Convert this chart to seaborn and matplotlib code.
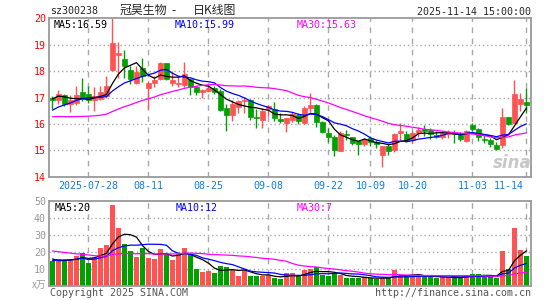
import numpy as np
import pandas as pd
import matplotlib
matplotlib.use("Agg")
import matplotlib.pyplot as plt
import matplotlib.transforms as mtransforms
import seaborn as sns

# ---------------- data ----------------
open_ = [17.00, 16.90, 17.10, 16.75, 16.78, 17.20, 17.15, 16.90, 16.95, 17.05,
         18.05, 18.60, 18.45, 18.05, 17.55, 18.10, 17.35, 17.55, 17.70, 18.30,
         17.55, 17.50, 17.47, 17.70, 17.40, 17.22, 17.25, 17.37, 17.24, 16.60,
         16.32, 16.63, 16.86, 16.92, 16.27, 16.16, 16.58, 16.57, 16.20, 16.03,
         16.14, 16.32, 16.02, 16.62, 16.70, 16.06, 15.65, 15.52, 14.98, 15.63,
         15.49, 15.34, 15.23, 15.48, 15.30, 14.82, 15.18, 15.00, 15.66, 15.62,
         15.40, 15.64, 15.80, 15.78, 15.57, 15.52, 15.62, 15.64, 15.57, 15.35,
         15.95, 15.80, 15.44, 15.38, 15.20, 15.20, 16.27, 16.05, 16.76, 16.82]
high = [17.05, 17.30, 17.15, 17.10, 17.45, 17.75, 17.45, 17.40, 17.45, 17.80,
        20.00, 19.10, 18.80, 18.20, 18.20, 18.50, 17.62, 17.80, 18.35, 18.32,
        18.00, 17.80, 18.35, 17.75, 17.45, 17.32, 17.45, 17.42, 17.33, 16.75,
        16.92, 16.92, 17.03, 16.95, 16.58, 16.60, 16.70, 16.82, 16.42, 16.24,
        16.46, 16.42, 16.67, 17.16, 16.77, 16.10, 15.84, 15.58, 15.72, 15.78,
        15.52, 15.38, 15.47, 15.55, 15.38, 15.18, 15.25, 15.66, 16.03, 15.72,
        15.75, 15.88, 15.95, 15.85, 15.72, 15.75, 15.77, 15.78, 15.68, 15.78,
        16.03, 15.84, 15.62, 15.45, 15.30, 16.60, 16.28, 17.67, 17.18, 17.35]
low = [16.55, 16.75, 16.68, 16.45, 16.70, 16.85, 16.80, 16.50, 16.90, 17.00,
       18.00, 17.75, 17.75, 17.50, 17.50, 17.60, 16.55, 17.40, 17.65, 17.65,
       17.45, 17.40, 17.40, 17.10, 17.10, 16.98, 17.20, 17.15, 16.50, 15.72,
       16.10, 16.42, 16.40, 16.16, 15.85, 15.85, 16.30, 16.12, 16.04, 15.68,
       16.06, 15.98, 15.98, 16.46, 15.90, 15.66, 15.33, 14.80, 14.97, 15.38,
       15.20, 14.82, 15.18, 15.18, 15.10, 14.38, 14.82, 14.95, 15.40, 15.30,
       15.27, 15.50, 15.55, 15.42, 15.45, 15.42, 15.45, 15.28, 15.36, 15.32,
       15.75, 15.35, 15.28, 15.12, 15.00, 15.10, 15.95, 16.05, 16.48, 16.40]
close = [16.90, 17.12, 16.75, 16.90, 17.10, 16.95, 16.92, 17.05, 17.20, 17.45,
         19.05, 18.70, 18.20, 17.70, 17.95, 17.80, 17.55, 17.65, 18.30, 17.70,
         17.65, 17.55, 17.90, 17.40, 17.20, 17.28, 17.35, 17.20, 16.54, 16.32,
         16.76, 16.86, 16.92, 16.28, 16.22, 16.50, 16.66, 16.22, 16.12, 16.21,
         16.38, 16.10, 16.60, 16.70, 16.06, 15.71, 15.51, 15.00, 15.65, 15.58,
         15.26, 15.22, 15.43, 15.30, 15.22, 15.15, 14.97, 15.62, 15.73, 15.37,
         15.65, 15.78, 15.74, 15.63, 15.52, 15.67, 15.70, 15.60, 15.43, 15.75,
         15.82, 15.50, 15.40, 15.23, 15.06, 16.26, 15.98, 17.12, 16.93, 16.72]
volume = [14.5, 16.0, 14.5, 15.5, 17.5, 19.5, 13.5, 16.5, 22.0, 24.0,
          47.5, 34.0, 24.5, 20.5, 17.0, 22.5, 16.5, 16.0, 21.5, 18.5,
          15.0, 19.0, 22.0, 18.0, 10.0, 8.0, 8.5, 7.3, 11.5, 11.0,
          9.2, 6.0, 9.0, 5.6, 5.6, 5.6, 6.3, 4.8, 3.8, 7.3,
          7.3, 5.6, 9.0, 9.8, 10.8, 6.3, 5.6, 7.0, 6.3, 4.8,
          4.4, 4.4, 5.0, 4.5, 4.0, 4.5, 4.5, 9.0, 6.5, 5.5,
          6.0, 6.0, 5.5, 5.0, 4.5, 5.0, 5.0, 4.5, 5.0, 6.5,
          7.0, 7.0, 5.0, 5.0, 4.5, 20.5, 10.0, 34.0, 21.0, 17.5]

# closes / volumes before the visible window (estimated from where the MA lines start)
prior_close = [16.8, 16.9, 17.0, 16.9, 16.8, 16.7, 16.6, 16.5,
               16.3, 16.0, 15.8, 15.6, 15.5, 15.4, 15.5, 15.6, 15.7, 15.7, 15.8, 15.8,
               15.9, 16.0, 16.1, 16.15, 16.3,
               16.6, 16.9, 17.15, 17.2]
prior_volume = [30, 28, 26, 32, 27, 25, 29, 27,
                24, 22, 20, 23, 19, 21, 18, 20, 22, 19, 18, 17,
                14, 13, 15, 14, 13.5,
                21, 14, 14, 15.5]

date_labels = ["2025-07-28", "08-11", "08-25", "09-08", "09-22", "10-09", "10-20", "11-03", "11-14"]
date_index = [6, 16, 26, 36, 46, 53, 60, 70, 79]

price_ticks = [14, 15, 16, 17, 18, 19, 20]
vol_ticks = [10, 20, 30, 40, 50]

title_code = "sz300238"
title_parts = ["冠昊生物", "-", "日K线图"]
stamp = "2025-11-14 15:00:00"
ma_price_text = ["MA5:16.59", "MA10:15.99", "MA30:15.63"]
ma_vol_text = ["MA5:20", "MA10:12", "MA30:7"]

# ---------------- styling ----------------
sns.set_style("white")
plt.rcParams["font.family"] = ["DejaVu Sans Mono"]
MONO = "DejaVu Sans Mono"
CJK = ["Noto Sans CJK SC", "DejaVu Sans"]
RED = "#ff5252"
GREEN = "#00a000"
MA_COLORS = ["#000000", "#0000ff", "#ff00ff"]
GRID = "#a8a8a8"
FS = 7.2

W, H = 545, 300
fig = plt.figure(figsize=(W / 100, H / 100), dpi=100)

def fx(px):
    return px / W

def fy(py):
    return 1 - py / H

L, R = 49, 531
ax1 = fig.add_axes([fx(L), fy(176.7), (R - L) / W, (176.7 - 18.3) / H])
ax2 = fig.add_axes([fx(L), fy(285.7), (R - L) / W, (285.7 - 201.0) / H])

n = len(close)
idx = np.arange(n)
o = np.array(open_); c = np.array(close); h = np.array(high); lo = np.array(low)
v = np.array(volume)
up = c >= o
colors = np.where(up, RED, GREEN)

full_close = pd.Series(prior_close + close)
full_vol = pd.Series(prior_volume + volume)
npre = len(prior_close)
ma_price = {k: full_close.rolling(k).mean().iloc[npre:].to_numpy() for k in (5, 10, 30)}
ma_vol = {k: full_vol.rolling(k).mean().iloc[npre:].to_numpy() for k in (5, 10, 30)}

xmin, xmax = -0.58, 79.75
BW = 0.82

for ax, ylim in ((ax1, (14, 20)), (ax2, (0, 50))):
    ax.set_xlim(xmin, xmax)
    ax.set_ylim(*ylim)
    ax.set_xticks([])
    for s in ax.spines.values():
        s.set_color("#9a9a9a")
        s.set_linewidth(1.3)
    for di in date_index:
        ax.axvline(di, color=GRID, lw=1.0, ls=(0, (4, 4)), zorder=0)

for yv in price_ticks[1:-1]:
    ax1.axhline(yv, color=GRID, lw=1.0, ls=(0, (1, 2)), zorder=0)
for yv in vol_ticks[:-1]:
    ax2.axhline(yv, color=GRID, lw=1.0, ls=(0, (1, 2)), zorder=0)

# candles
ax1.vlines(idx, lo, h, colors=colors, lw=1.0, zorder=2)
body_bottom = np.minimum(o, c)
body_h = np.maximum(np.abs(c - o), 0.03)
ax1.bar(idx, body_h, bottom=body_bottom, width=BW, color=colors, edgecolor=colors,
        linewidth=0.5, zorder=3)

# price MAs
for k, col in zip((5, 10, 30), MA_COLORS):
    sns.lineplot(x=idx, y=ma_price[k], ax=ax1, color=col, lw=0.9, legend=False, zorder=4)

# volume bars
ax2.bar(idx, v, width=BW, color=colors, linewidth=0, zorder=2)
for k, col in zip((5, 10, 30), MA_COLORS):
    sns.lineplot(x=idx, y=ma_vol[k], ax=ax2, color=col, lw=0.9, legend=False, zorder=4)

# y tick labels
ax1.set_yticks(price_ticks)
ax1.set_yticklabels([str(t) for t in price_ticks], fontfamily=MONO, fontsize=FS)
ax1.tick_params(axis="y", colors="#ff0000", length=0, pad=2.2)
ax2.set_yticks(vol_ticks)
ax2.set_yticklabels([str(t) for t in vol_ticks], fontfamily=MONO, fontsize=FS)
ax2.tick_params(axis="y", colors="#999999", length=0, pad=2.2)
ax1.set_xlabel(""); ax1.set_ylabel(""); ax2.set_xlabel(""); ax2.set_ylabel("")

# date labels between the panels
for lab, di in zip(date_labels, date_index):
    if di == date_index[-1]:
        tr = mtransforms.offset_copy(ax1.get_xaxis_transform(), fig=fig, x=-3, y=0, units="dots")
        ax1.text(di, -0.058, lab, transform=tr, ha="right", va="center",
                 fontsize=FS, fontfamily=MONO, color="#1a7bd0")
    else:
        ax1.text(di, -0.058, lab, transform=ax1.get_xaxis_transform(), ha="center",
                 va="center", fontsize=FS, fontfamily=MONO, color="#1a7bd0")

# header texts
fig.text(fx(50), fy(11), title_code, ha="left", va="center", fontsize=FS, fontfamily=MONO)
for part, xp in zip(title_parts, (120, 171, 193)):
    fig.text(fx(xp), fy(10.5), part, ha="left", va="center", fontsize=8.6, family=CJK)
fig.text(fx(531), fy(12), stamp, ha="right", va="center", fontsize=FS, fontfamily=MONO)

# MA legends
for txt, xp, col in zip(ma_price_text, (54, 175, 296.5), MA_COLORS):
    fig.text(fx(xp), fy(24.5), txt, ha="left", va="center", fontsize=FS, fontfamily=MONO, color=col)
for txt, xp, col in zip(ma_vol_text, (55, 175.5, 296.5), MA_COLORS):
    fig.text(fx(xp), fy(208), txt, ha="left", va="center", fontsize=FS, fontfamily=MONO, color=col)

fig.text(fx(46), fy(285), "x万", ha="right", va="center", fontsize=7, family=CJK, color="#9a9a9a")
fig.text(fx(50), fy(293.5), "Copyright 2025 SINA.COM", ha="left", va="center",
         fontsize=FS, fontfamily=MONO, color="#555555")
fig.text(fx(531), fy(293.5), "http://finance.sina.com.cn", ha="right", va="center",
         fontsize=FS, fontfamily=MONO, color="#555555")

# faint sina watermark
fig.text(fx(512), fy(163), "sina", ha="center", va="center", fontsize=12, style="italic",
         fontweight="bold", family=["DejaVu Sans"], color="#c8c8c8", zorder=1)

fig.savefig("out.png", dpi=100)
